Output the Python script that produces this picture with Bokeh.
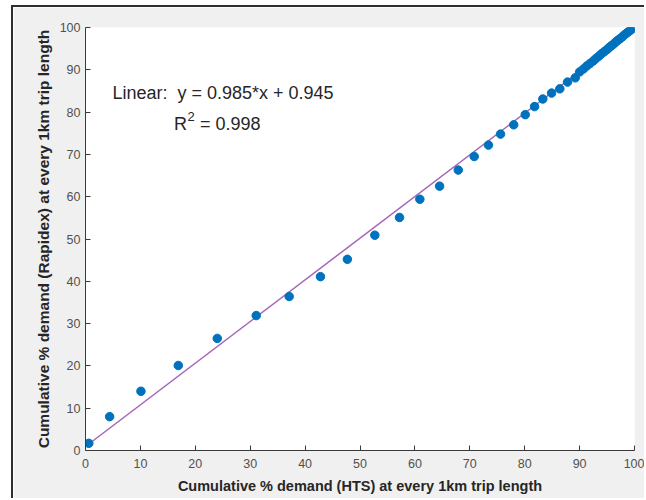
from bokeh.plotting import figure
from bokeh.models import FixedTicker, Range1d
from bokeh.embed import file_html
from bokeh.resources import INLINE
from bokeh.core.properties import value

# Cumulative % demand (HTS) at every 1 km trip length
hts = [0.6, 4.4, 10.1, 16.9, 24.0, 31.1, 37.1, 42.8, 47.7, 52.7, 57.2, 60.9,
       64.5, 67.9, 70.8, 73.4, 75.6, 78.0, 80.1, 81.8, 83.3, 84.9, 86.4, 87.8,
       89.2, 90.0, 90.7, 91.3, 91.9, 92.5, 93.0, 93.5, 94.0, 94.5, 95.0, 95.4,
       95.8, 96.2, 96.6, 97.0, 97.4, 97.8, 98.2, 98.6, 99.0, 99.3, 99.6, 99.8, 100.0]
# Cumulative % demand (Rapidex) at every 1 km trip length
rapidex = [1.7, 8.0, 14.0, 20.1, 26.5, 31.9, 36.4, 41.1, 45.2, 50.9, 55.1, 59.4,
           62.5, 66.3, 69.5, 72.2, 74.8, 77.0, 79.4, 81.3, 83.1, 84.5, 85.5, 87.1,
           88.1, 89.5, 90.2, 90.9, 91.5, 92.1, 92.7, 93.2, 93.8, 94.3, 94.8, 95.3,
           95.7, 96.1, 96.6, 97.0, 97.4, 97.8, 98.3, 98.7, 99.1, 99.4, 99.7, 99.9, 100.2]

fit_slope = 0.985
fit_intercept = 0.945
fit_x = [0, 100]
fit_y = [fit_intercept + fit_slope * v for v in fit_x]

ticks = [0, 10, 20, 30, 40, 50, 60, 70, 80, 90, 100]
x_label = "Cumulative % demand (HTS) at every 1km trip length"
y_label = "Cumulative % demand (Rapidex) at every 1km trip length"
eq_text = "Linear:\u00a0 y = 0.985*x + 0.945"
r2_base = "R"
r2_sup = "2"
r2_rest = "= 0.998"

FONT = "Liberation Sans"

p = figure(width=633, height=493,
           x_range=Range1d(0, 100), y_range=Range1d(0, 100),
           output_backend="svg", toolbar_location=None,
           min_border_left=72, min_border_top=20,
           min_border_right=12, min_border_bottom=50)
p.styles = {"margin-left": "11px", "margin-top": "5px",
            "border-left": "2px solid #2e2e2e", "border-top": "2px solid #2e2e2e"}

p.background_fill_color = "white"
p.border_fill_color = "#f0f0f0"
p.outline_line_color = None
p.grid.visible = False

for ax in (p.xaxis[0], p.yaxis[0]):
    ax.ticker = FixedTicker(ticks=ticks)
    ax.minor_tick_line_color = None
    ax.major_tick_in = 5
    ax.major_tick_out = 0
    ax.axis_line_color = "#3a3a3a"
    ax.major_tick_line_color = "#3a3a3a"
    ax.major_label_text_font = FONT
    ax.major_label_text_font_size = "12.5px"
    ax.major_label_text_color = "#505050"
    ax.axis_label_text_font = FONT
    ax.axis_label_text_font_style = "bold"
    ax.axis_label_text_color = "#262626"

p.xaxis.axis_label = x_label
p.yaxis.axis_label = y_label
p.xaxis.axis_label_text_font_size = "14.5px"
p.yaxis.axis_label_text_font_size = "15.5px"
p.xaxis.major_label_standoff = 8
p.yaxis.major_label_standoff = 5
p.xaxis.axis_label_standoff = 7
p.yaxis.axis_label_standoff = 5

p.line(fit_x, fit_y, line_color="#a466b8", line_width=1.5)
p.scatter(hts, rapidex, size=8.5, fill_color="#0072BD", line_color="#0072BD")

p.text(x=[4.9], y=[84.45], text=[eq_text], text_font=value(FONT),
       text_font_size="18px", text_baseline="alphabetic", text_color="#262626")
p.text(x=[16.1], y=[77.2], text=[r2_base], text_font=value(FONT),
       text_font_size="18px", text_baseline="alphabetic", text_color="#262626")
p.text(x=[16.1], y=[77.2], text=[r2_sup], text_font=value(FONT),
       text_font_size="13px", text_baseline="alphabetic", text_color="#262626",
       x_offset=13.5, y_offset=-7)
p.text(x=[16.1], y=[77.2], text=[r2_rest], text_font=value(FONT),
       text_font_size="18px", text_baseline="alphabetic", text_color="#262626",
       x_offset=26)

open("out.html", "w").write(file_html(p, INLINE))
